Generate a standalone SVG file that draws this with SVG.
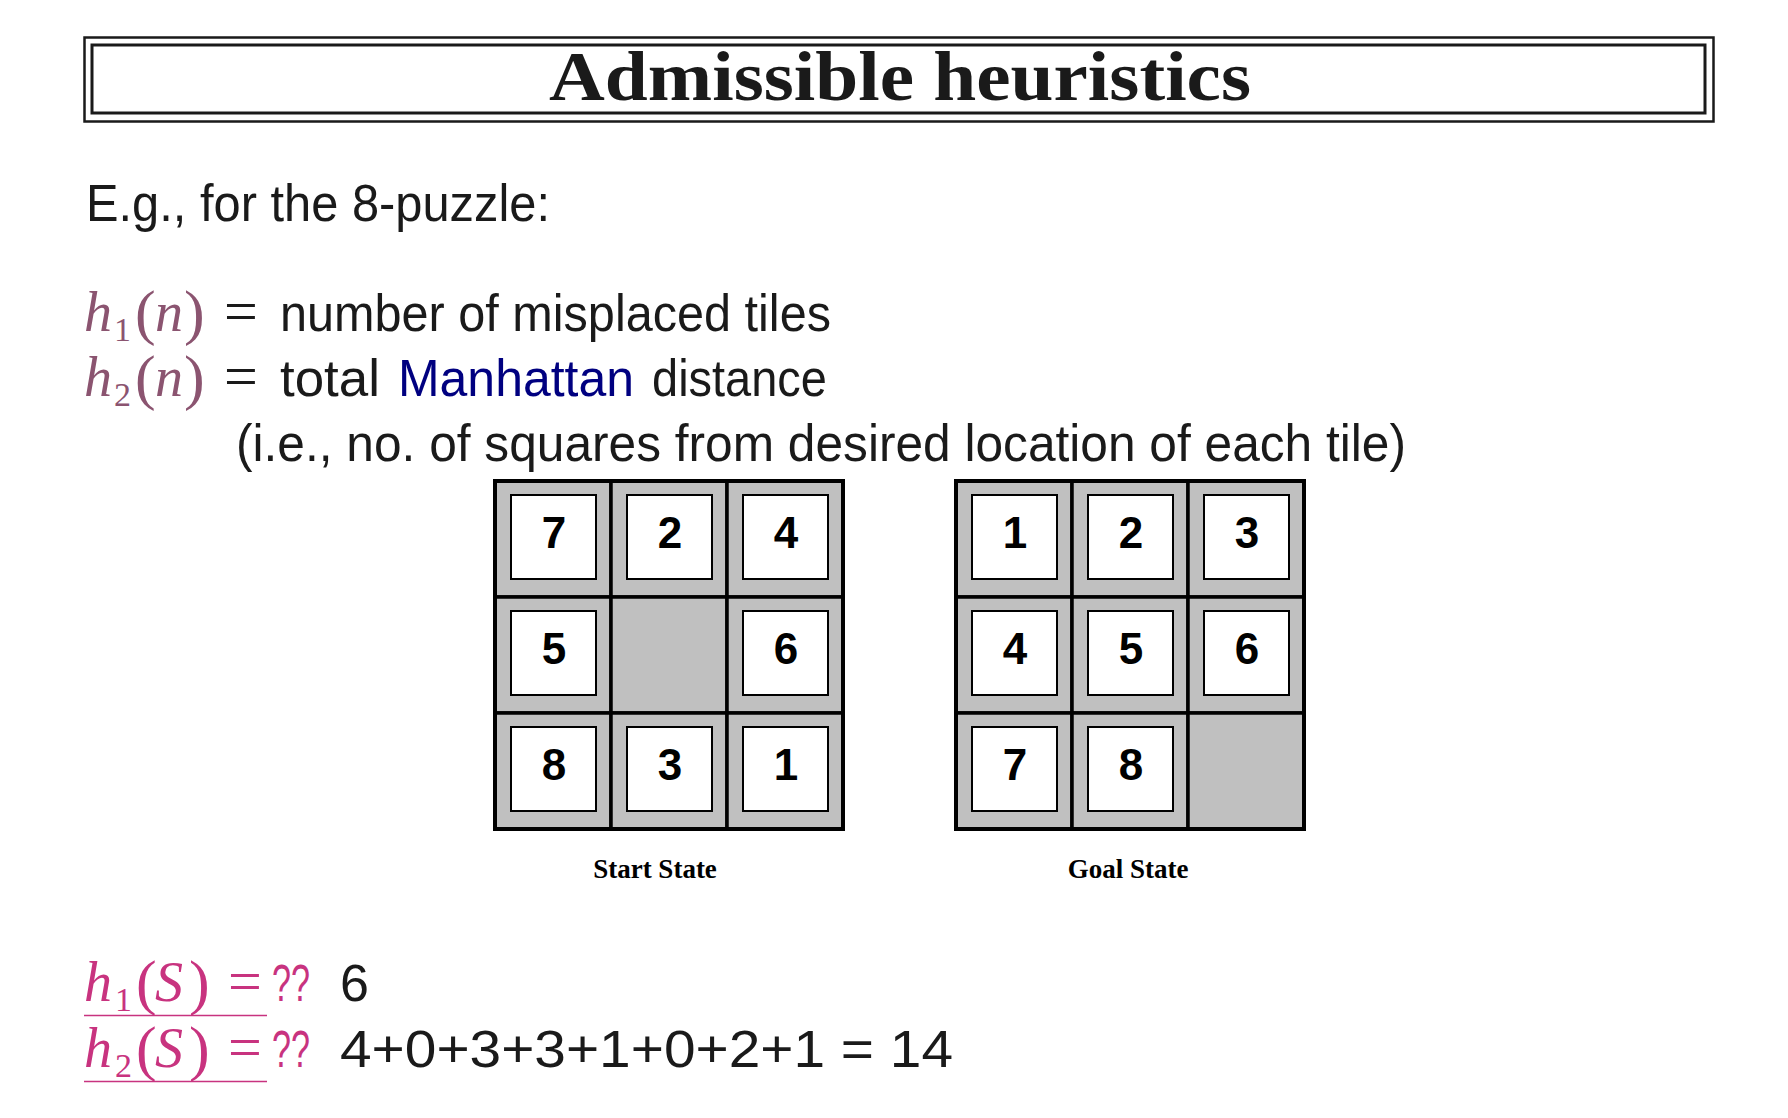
<svg xmlns="http://www.w3.org/2000/svg" width="1788" height="1118" viewBox="0 0 1788 1118">
<defs>
<style>
.sans{font-family:"Liberation Sans",Arial,sans-serif;fill:#1a1a1a}
.math{font-family:"Liberation Serif","Times New Roman",serif}
.mi{font-style:italic}
.mauve{fill:#8b5470}
.mag{fill:#c8337f}
.cell{fill:#c0c0c0;stroke:#000;stroke-width:3.5}
.tile{fill:#fff;stroke:#000;stroke-width:2}
.num{font-family:"Liberation Sans",Arial,sans-serif;font-weight:bold;font-size:44px;text-anchor:middle;fill:#000}
.lbl{font-family:"Liberation Serif","Times New Roman",serif;font-weight:bold;font-size:27px;text-anchor:middle;fill:#000}
</style>
</defs>
<rect width="1788" height="1118" fill="#fff"/>

<g id="title">
<rect x="84.5" y="37.5" width="1629" height="84" fill="none" stroke="#1a1a1a" stroke-width="2.5"/>
<rect x="92" y="45" width="1613" height="68" fill="none" stroke="#1a1a1a" stroke-width="3"/>
<text x="549" y="100" font-family="'Liberation Serif','Times New Roman',serif" font-weight="bold" font-size="70" fill="#1a1a1a" textLength="702" lengthAdjust="spacingAndGlyphs">Admissible heuristics</text>
</g>

<g id="intro">
<text class="sans" x="86" y="221" font-size="52" textLength="464" lengthAdjust="spacingAndGlyphs">E.g., for the 8-puzzle:</text>
</g>

<g id="h1def">
<text class="math mauve" font-size="56"><tspan class="mi" x="84" y="331">h</tspan><tspan x="114" y="341" font-size="34">1</tspan><tspan x="135" y="333" font-size="62">(</tspan><tspan class="mi" x="155" y="331">n</tspan><tspan x="184" y="333" font-size="62">)</tspan></text>
<text class="math" x="224" y="331" font-size="60" fill="#1a1a1a">=</text>
<text class="sans" x="280" y="331" font-size="52" textLength="551" lengthAdjust="spacingAndGlyphs">number of misplaced tiles</text>
</g>

<g id="h2def">
<text class="math mauve" font-size="56"><tspan class="mi" x="84" y="396">h</tspan><tspan x="114" y="406" font-size="34">2</tspan><tspan x="135" y="398" font-size="62">(</tspan><tspan class="mi" x="155" y="396">n</tspan><tspan x="184" y="398" font-size="62">)</tspan></text>
<text class="math" x="224" y="396" font-size="60" fill="#1a1a1a">=</text>
<text class="sans" x="280" y="396" font-size="52" textLength="100" lengthAdjust="spacingAndGlyphs">total</text>
<text class="sans" x="398" y="396" font-size="52" textLength="236" lengthAdjust="spacingAndGlyphs" style="fill:#000080">Manhattan</text>
<text class="sans" x="652" y="396" font-size="52" textLength="175" lengthAdjust="spacingAndGlyphs">distance</text>
<text class="sans" x="236" y="461" font-size="52" textLength="1170" lengthAdjust="spacingAndGlyphs">(i.e., no. of squares from desired location of each tile)</text>
</g>

<g id="start-state">
<rect class="cell" x="495" y="481" width="116" height="116"/>
<rect class="cell" x="611" y="481" width="116" height="116"/>
<rect class="cell" x="727" y="481" width="116" height="116"/>
<rect class="cell" x="495" y="597" width="116" height="116"/>
<rect class="cell" x="611" y="597" width="116" height="116"/>
<rect class="cell" x="727" y="597" width="116" height="116"/>
<rect class="cell" x="495" y="713" width="116" height="116"/>
<rect class="cell" x="611" y="713" width="116" height="116"/>
<rect class="cell" x="727" y="713" width="116" height="116"/>
<rect x="495" y="481" width="348" height="348" fill="none" stroke="#000" stroke-width="4"/>
<rect class="tile" x="511" y="495" width="85" height="84"/><text class="num" x="554" y="548">7</text>
<rect class="tile" x="627" y="495" width="85" height="84"/><text class="num" x="670" y="548">2</text>
<rect class="tile" x="743" y="495" width="85" height="84"/><text class="num" x="786" y="548">4</text>
<rect class="tile" x="511" y="611" width="85" height="84"/><text class="num" x="554" y="664">5</text>
<rect class="tile" x="743" y="611" width="85" height="84"/><text class="num" x="786" y="664">6</text>
<rect class="tile" x="511" y="727" width="85" height="84"/><text class="num" x="554" y="780">8</text>
<rect class="tile" x="627" y="727" width="85" height="84"/><text class="num" x="670" y="780">3</text>
<rect class="tile" x="743" y="727" width="85" height="84"/><text class="num" x="786" y="780">1</text>
<text class="lbl" x="655" y="878">Start State</text>
</g>

<g id="goal-state">
<rect class="cell" x="956" y="481" width="116" height="116"/>
<rect class="cell" x="1072" y="481" width="116" height="116"/>
<rect class="cell" x="1188" y="481" width="116" height="116"/>
<rect class="cell" x="956" y="597" width="116" height="116"/>
<rect class="cell" x="1072" y="597" width="116" height="116"/>
<rect class="cell" x="1188" y="597" width="116" height="116"/>
<rect class="cell" x="956" y="713" width="116" height="116"/>
<rect class="cell" x="1072" y="713" width="116" height="116"/>
<rect class="cell" x="1188" y="713" width="116" height="116"/>
<rect x="956" y="481" width="348" height="348" fill="none" stroke="#000" stroke-width="4"/>
<rect class="tile" x="972" y="495" width="85" height="84"/><text class="num" x="1015" y="548">1</text>
<rect class="tile" x="1088" y="495" width="85" height="84"/><text class="num" x="1131" y="548">2</text>
<rect class="tile" x="1204" y="495" width="85" height="84"/><text class="num" x="1247" y="548">3</text>
<rect class="tile" x="972" y="611" width="85" height="84"/><text class="num" x="1015" y="664">4</text>
<rect class="tile" x="1088" y="611" width="85" height="84"/><text class="num" x="1131" y="664">5</text>
<rect class="tile" x="1204" y="611" width="85" height="84"/><text class="num" x="1247" y="664">6</text>
<rect class="tile" x="972" y="727" width="85" height="84"/><text class="num" x="1015" y="780">7</text>
<rect class="tile" x="1088" y="727" width="85" height="84"/><text class="num" x="1131" y="780">8</text>
<text class="lbl" x="1128" y="878">Goal State</text>
</g>

<g id="h1S">
<text class="math mag" font-size="56"><tspan class="mi" x="84" y="1001">h</tspan><tspan x="115" y="1011" font-size="34">1</tspan><tspan x="136" y="1003" font-size="62">(</tspan><tspan class="mi" x="155" y="1001">S</tspan><tspan x="189" y="1003" font-size="62">)</tspan><tspan x="228" y="1001" font-size="60">=</tspan></text>
<text class="sans" x="272" y="1001" font-size="52" textLength="38" lengthAdjust="spacingAndGlyphs" style="fill:#c8337f">??</text>
<line x1="84" y1="1015.5" x2="267" y2="1015.5" stroke="#c8337f" stroke-width="1.5"/>
<text class="sans" x="340" y="1001" font-size="52">6</text>
</g>

<g id="h2S">
<text class="math mag" font-size="56"><tspan class="mi" x="84" y="1067">h</tspan><tspan x="115" y="1077" font-size="34">2</tspan><tspan x="136" y="1069" font-size="62">(</tspan><tspan class="mi" x="155" y="1067">S</tspan><tspan x="189" y="1069" font-size="62">)</tspan><tspan x="228" y="1067" font-size="60">=</tspan></text>
<text class="sans" x="272" y="1067" font-size="52" textLength="38" lengthAdjust="spacingAndGlyphs" style="fill:#c8337f">??</text>
<line x1="84" y1="1081.5" x2="267" y2="1081.5" stroke="#c8337f" stroke-width="1.5"/>
<text class="sans" x="340" y="1067" font-size="52" textLength="613" lengthAdjust="spacingAndGlyphs">4+0+3+3+1+0+2+1 = 14</text>
</g>
</svg>
